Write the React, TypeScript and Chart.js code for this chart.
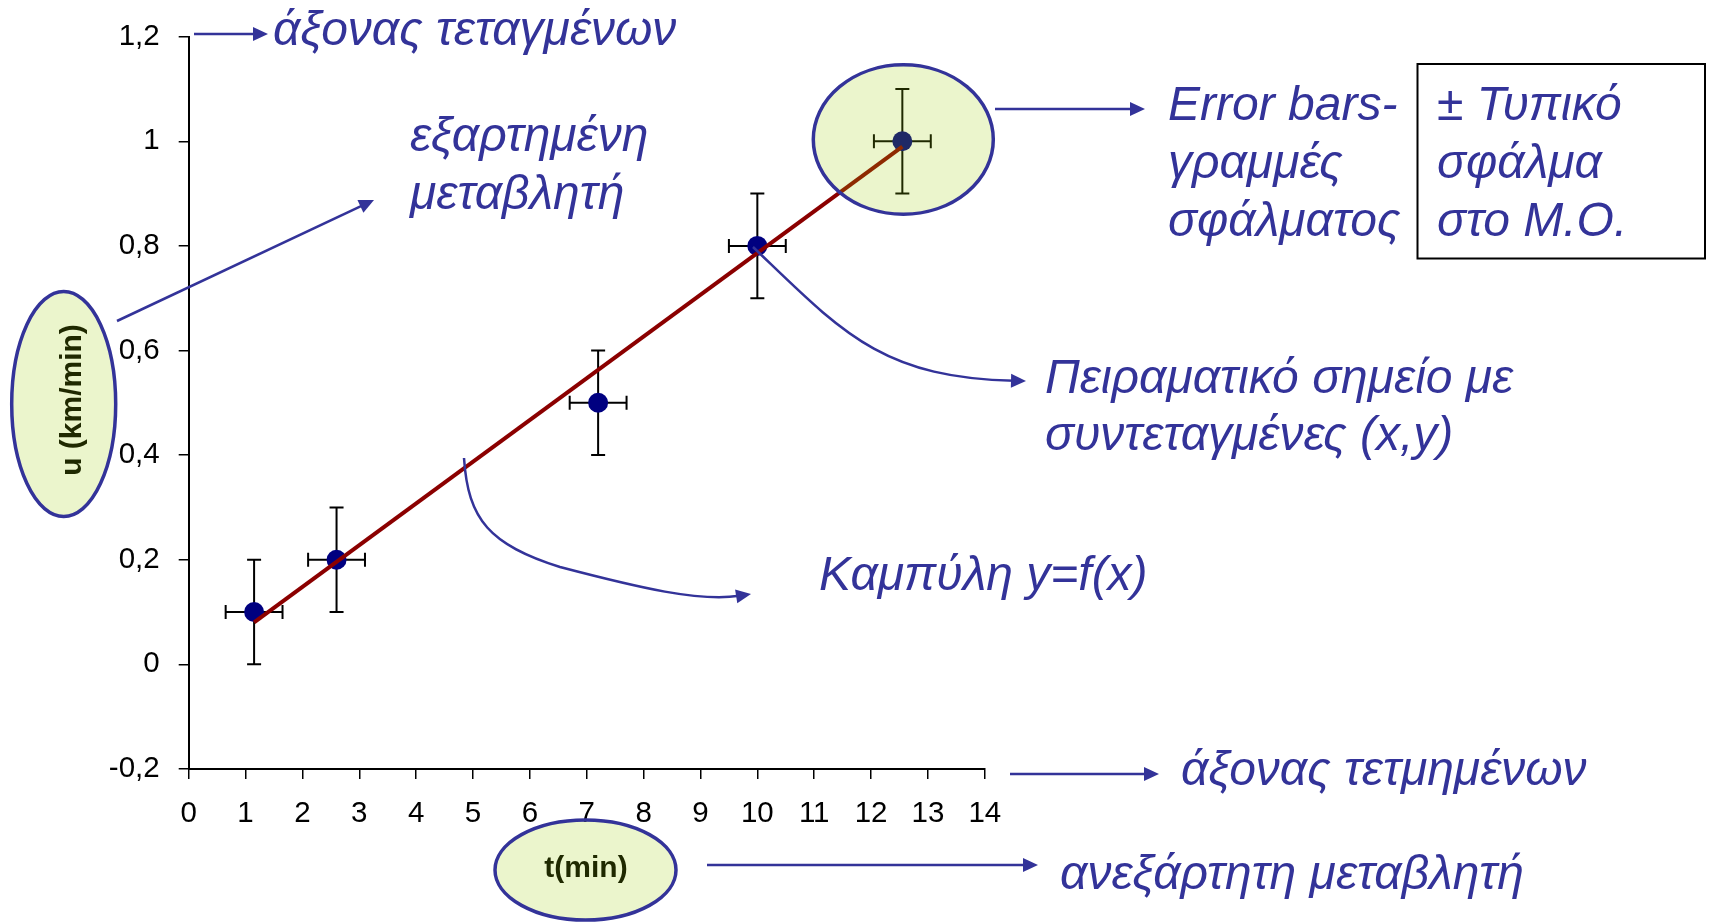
import React, { useEffect, useRef } from 'react';
import { Chart, registerables } from 'chart.js';

Chart.register(...registerables);

// Measurements: time (min) and speed (km/min) with standard errors
const timeMin = [1.15, 2.6, 7.2, 10, 12.55];
const speedKmMin = [0.1, 0.2, 0.5, 0.8, 1.0];
const timeError = [0.5, 0.5, 0.5, 0.5, 0.5];
const speedError = [0.1, 0.1, 0.1, 0.1, 0.1];

// Fitted straight line y = f(x), given by its two end points
const trendTime = [1.15, 12.55];
const trendSpeed = [0.08, 0.99];

// Axis ticks
const xTickValues = [0, 1, 2, 3, 4, 5, 6, 7, 8, 9, 10, 11, 12, 13, 14];
const xTickLabels = ['0', '1', '2', '3', '4', '5', '6', '7', '8', '9', '10', '11', '12', '13', '14'];
const yTickValues = [-0.2, 0, 0.2, 0.4, 0.6, 0.8, 1, 1.2];
const yTickLabels = ['-0,2', '0', '0,2', '0,4', '0,6', '0,8', '1', '1,2'];

const W = 1710;
const H = 924;
const ANN = '#333399';
const TINT = 'rgba(153, 204, 0, 0.2)';
const NOTE_FONT = 'italic 48px "Liberation Sans", Arial, sans-serif';
const LABEL_FONT = 'bold 30px "Liberation Sans", Arial, sans-serif';

type Pt = [number, number];

function arrowHead(ctx: CanvasRenderingContext2D, tip: Pt, angle: number, len = 15, half = 7) {
  ctx.save();
  ctx.translate(tip[0], tip[1]);
  ctx.rotate(angle);
  ctx.beginPath();
  ctx.moveTo(0, 0);
  ctx.lineTo(-len, -half);
  ctx.lineTo(-len, half);
  ctx.closePath();
  ctx.fill();
  ctx.restore();
}

function straightArrow(ctx: CanvasRenderingContext2D, from: Pt, tip: Pt) {
  const a = Math.atan2(tip[1] - from[1], tip[0] - from[0]);
  ctx.beginPath();
  ctx.moveTo(from[0], from[1]);
  ctx.lineTo(tip[0] - 12 * Math.cos(a), tip[1] - 12 * Math.sin(a));
  ctx.stroke();
  arrowHead(ctx, tip, a);
}

// Path of cubic segments: start, then [c1, c2, end] per segment; arrow at the last end
function curvedArrow(ctx: CanvasRenderingContext2D, start: Pt, segs: [Pt, Pt, Pt][]) {
  ctx.beginPath();
  ctx.moveTo(start[0], start[1]);
  segs.forEach(([c1, c2, e], i) => {
    if (i === segs.length - 1) {
      const a = Math.atan2(e[1] - c2[1], e[0] - c2[0]);
      ctx.bezierCurveTo(c1[0], c1[1], c2[0], c2[1], e[0] - 12 * Math.cos(a), e[1] - 12 * Math.sin(a));
    } else {
      ctx.bezierCurveTo(c1[0], c1[1], c2[0], c2[1], e[0], e[1]);
    }
  });
  ctx.stroke();
  const [, c2, e] = segs[segs.length - 1];
  arrowHead(ctx, e, Math.atan2(e[1] - c2[1], e[0] - c2[0]));
}

function tintedEllipse(ctx: CanvasRenderingContext2D, cx: number, cy: number, rx: number, ry: number) {
  ctx.beginPath();
  ctx.ellipse(cx, cy, rx, ry, 0, 0, Math.PI * 2);
  ctx.fillStyle = TINT;
  ctx.fill();
  ctx.lineWidth = 3.5;
  ctx.strokeStyle = ANN;
  ctx.stroke();
}

const errorBarsPlugin = {
  id: 'errorBars',
  beforeDatasetsDraw(chart: any) {
    const { ctx } = chart;
    const x = chart.scales.x;
    const y = chart.scales.y;
    const cap = 7;
    ctx.save();
    ctx.strokeStyle = '#000';
    ctx.lineWidth = 2;
    timeMin.forEach((t, i) => {
      const px = x.getPixelForValue(t);
      const py = y.getPixelForValue(speedKmMin[i]);
      const top = y.getPixelForValue(speedKmMin[i] + speedError[i]);
      const bot = y.getPixelForValue(speedKmMin[i] - speedError[i]);
      const left = x.getPixelForValue(t - timeError[i]);
      const right = x.getPixelForValue(t + timeError[i]);
      ctx.beginPath();
      ctx.moveTo(px, top);
      ctx.lineTo(px, bot);
      ctx.moveTo(px - cap, top);
      ctx.lineTo(px + cap, top);
      ctx.moveTo(px - cap, bot);
      ctx.lineTo(px + cap, bot);
      ctx.moveTo(left, py);
      ctx.lineTo(right, py);
      ctx.moveTo(left, py - cap);
      ctx.lineTo(left, py + cap);
      ctx.moveTo(right, py - cap);
      ctx.lineTo(right, py + cap);
      ctx.stroke();
    });
    ctx.restore();
  },
};

const notesPlugin = {
  id: 'notes',
  afterDraw(chart: any) {
    const ctx: CanvasRenderingContext2D = chart.ctx;
    ctx.save();

    // axis titles (drawn dark, then tinted by the ellipse fill)
    ctx.fillStyle = '#000';
    ctx.font = LABEL_FONT;
    ctx.textAlign = 'center';
    ctx.textBaseline = 'alphabetic';
    ctx.fillText('t(min)', 586, 877);
    ctx.save();
    ctx.translate(81, 400);
    ctx.rotate(-Math.PI / 2);
    ctx.fillText('u (km/min)', 0, 0);
    ctx.restore();

    tintedEllipse(ctx, 63.7, 404, 52, 112.5);
    tintedEllipse(ctx, 585.5, 870, 90.5, 50);
    tintedEllipse(ctx, 903.3, 139.5, 90, 74.7);

    // explanatory notes
    ctx.fillStyle = ANN;
    ctx.font = NOTE_FONT;
    ctx.textAlign = 'left';
    ctx.fillText('άξονας τεταγμένων', 273, 45);
    ctx.fillText('εξαρτημένη', 410, 151);
    ctx.fillText('μεταβλητή', 410, 209);
    ctx.fillText('Error bars-', 1168, 120);
    ctx.fillText('γραμμές', 1168, 178);
    ctx.fillText('σφάλματος', 1168, 236);
    ctx.fillText('± Τυπικό', 1437, 120);
    ctx.fillText('σφάλμα', 1437, 178);
    ctx.fillText('στο Μ.Ο.', 1437, 236);
    ctx.fillText('Πειραματικό σημείο με', 1045, 393);
    ctx.fillText('συντεταγμένες (x,y)', 1045, 450);
    ctx.fillText('Καμπύλη y=f(x)', 819, 590);
    ctx.fillText('άξονας τετμημένων', 1181, 785);
    ctx.fillText('ανεξάρτητη μεταβλητή', 1060, 889);

    // framed note
    ctx.strokeStyle = '#000';
    ctx.lineWidth = 2;
    ctx.strokeRect(1417.5, 64, 287.5, 194.5);

    // arrows
    ctx.strokeStyle = ANN;
    ctx.fillStyle = ANN;
    ctx.lineWidth = 2.5;
    straightArrow(ctx, [194, 34], [268, 34]);
    straightArrow(ctx, [117, 321], [374, 200]);
    straightArrow(ctx, [995, 109], [1145, 109]);
    straightArrow(ctx, [1010, 774], [1159, 774]);
    straightArrow(ctx, [707, 865], [1038, 865]);
    curvedArrow(ctx, [753, 247], [[[840, 330], [880, 378], [1026, 381]]]);
    curvedArrow(ctx, [464, 458], [
      [[468, 520], [490, 545], [560, 567]],
      [[640, 588], [700, 602], [751, 594]],
    ]);

    ctx.restore();
  },
};

export default function App() {
  const canvasRef = useRef<HTMLCanvasElement | null>(null);

  useEffect(() => {
    const canvas = canvasRef.current;
    if (!canvas) return;
    const tickFont = { family: '"Liberation Sans", Arial, sans-serif', size: 29.5 };
    const chart = new Chart(canvas, {
      type: 'scatter',
      data: {
        datasets: [
          {
            label: 'y=f(x)',
            data: trendTime.map((t, i) => ({ x: t, y: trendSpeed[i] })),
            showLine: true,
            borderColor: '#8B0000',
            borderWidth: 4,
            pointRadius: 0,
            pointHoverRadius: 0,
          },
          {
            label: 'u',
            data: timeMin.map((t, i) => ({ x: t, y: speedKmMin[i] })),
            backgroundColor: '#000080',
            borderWidth: 0,
            pointRadius: 10,
            pointHoverRadius: 10,
          },
        ],
      },
      options: {
        animation: false,
        responsive: false,
        devicePixelRatio: 1,
        events: [],
        layout: { padding: { top: 33.8, left: 0, right: 725.2, bottom: 95.1 } },
        plugins: { legend: { display: false }, tooltip: { enabled: false } },
        scales: {
          x: {
            type: 'linear',
            min: 0,
            max: 14,
            afterBuildTicks: (s: any) => {
              s.ticks = xTickValues.map((v) => ({ value: v }));
            },
            afterFit: (s: any) => {
              s.height = 60;
            },
            ticks: {
              color: '#000',
              font: tickFont,
              padding: 17,
              maxRotation: 0,
              autoSkip: false,
              callback: (v: any) => xTickLabels[xTickValues.indexOf(Number(v))] ?? '',
            },
            grid: { drawOnChartArea: false, drawTicks: true, tickLength: 10, color: '#000', lineWidth: 1.5 },
            border: { display: true, color: '#000', width: 2 },
          },
          y: {
            type: 'linear',
            min: -0.2,
            max: 1.2,
            afterBuildTicks: (s: any) => {
              s.ticks = yTickValues.map((v) => ({ value: v }));
            },
            afterFit: (s: any) => {
              s.width = 188.7;
            },
            ticks: {
              color: '#000',
              font: tickFont,
              padding: 19,
              autoSkip: false,
              callback: (v: any) => {
                const k = yTickValues.findIndex((t) => Math.abs(t - Number(v)) < 1e-9);
                return k >= 0 ? yTickLabels[k] : '';
              },
            },
            grid: { drawOnChartArea: false, drawTicks: true, tickLength: 10, color: '#000', lineWidth: 1.5 },
            border: { display: true, color: '#000', width: 2 },
          },
        },
      },
      plugins: [errorBarsPlugin, notesPlugin],
    } as any);
    return () => chart.destroy();
  }, []);

  return (
    <div style={{ position: 'absolute', left: 0, top: 0, width: W, height: H, background: '#fff' }}>
      <canvas ref={canvasRef} width={W} height={H} style={{ display: 'block', width: W, height: H }} />
    </div>
  );
}
